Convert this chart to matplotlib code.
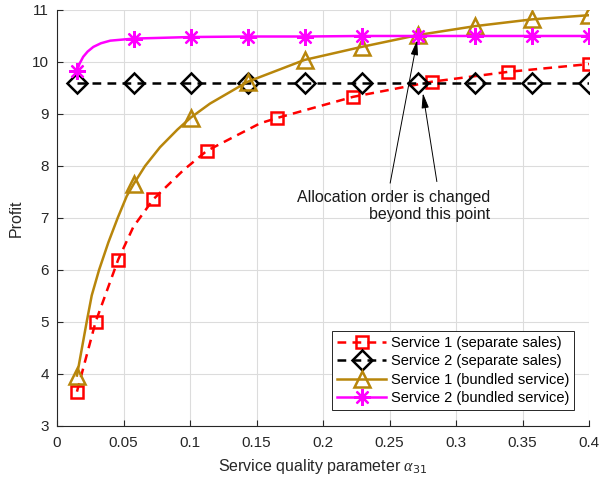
import matplotlib
matplotlib.use('Agg')
import matplotlib.pyplot as plt

plt.rcParams['font.family'] = ['Liberation Sans', 'DejaVu Sans']
plt.rcParams['mathtext.fontset'] = 'custom'
plt.rcParams['mathtext.it'] = 'Liberation Serif:italic'

# 数据
x_marks = [0.015, 0.0578, 0.1005, 0.1433, 0.1861, 0.2289, 0.2717, 0.3144, 0.3572, 0.4]

# Service 1 (separate sales)
s1_sep_x = [0.015, 0.029, 0.046, 0.0574, 0.0724, 0.095, 0.1125, 0.1526, 0.165,
            0.2226, 0.2816, 0.339, 0.4]
s1_sep_y = [3.66, 5.0, 6.2, 6.83, 7.36, 7.92, 8.29, 8.82, 8.92,
            9.33, 9.62, 9.81, 9.96]
s1_sep_mk = [0, 1, 2, 4, 6, 8, 9, 10, 11, 12]

# Service 2 (separate sales)
s2_sep_y = [9.59, 9.59, 9.59, 9.59, 9.59, 9.59, 9.59, 9.59, 9.59, 9.59]

# Service 1 (bundled service)
s1_bun_x = [0.015, 0.0223, 0.0261, 0.0316, 0.0386, 0.0456, 0.0524, 0.0578, 0.0662,
            0.0774, 0.0905, 0.1005, 0.115, 0.1433, 0.1861, 0.2289, 0.2717, 0.3144,
            0.3572, 0.4]
s1_bun_y = [3.97, 5.0, 5.51, 6.0, 6.53, 7.0, 7.42, 7.66, 8.0,
            8.36, 8.7, 8.93, 9.2, 9.62, 10.04, 10.29, 10.52, 10.69,
            10.82, 10.90]
s1_bun_mk = [0, 7, 11, 13, 14, 15, 16, 17, 18, 19]

# Service 2 (bundled service)
s2_bun_x = [0.015, 0.017, 0.0197, 0.023, 0.0273, 0.033, 0.04, 0.0578, 0.1005,
            0.1433, 0.1861, 0.2289, 0.2717, 0.3144, 0.3572, 0.4]
s2_bun_y = [9.83, 9.97, 10.1, 10.2, 10.29, 10.36, 10.41, 10.45, 10.48,
            10.49, 10.49, 10.5, 10.5, 10.5, 10.5, 10.5]
s2_bun_mk = [0, 7, 8, 9, 10, 11, 12, 13, 14, 15]

gold = '#b8860b'
star = (8, 2, 0)

fig = plt.figure(figsize=(6, 4.87), dpi=100)
ax = fig.add_axes([0.095, 0.1253, 0.887, 0.8542])

ax.plot(s1_sep_x, s1_sep_y, color='r', linestyle=(0, (3.5, 2.5)), lw=1.8,
        marker='s', markevery=s1_sep_mk, ms=9, mfc='none', mew=1.8,
        label='Service 1 (separate sales)')
ax.plot(x_marks, s2_sep_y, color='k', linestyle=(0, (3.5, 2.5)), lw=1.8,
        marker='D', ms=10, mfc='none', mew=1.8,
        label='Service 2 (separate sales)')
ax.plot(s1_bun_x, s1_bun_y, color=gold, lw=1.8,
        marker='^', markevery=s1_bun_mk, ms=12, mfc='none', mew=1.8,
        label='Service 1 (bundled service)')
ax.plot(s2_bun_x, s2_bun_y, color='#ff00ff', lw=1.8,
        marker=star, markevery=s2_bun_mk, ms=12, mew=1.6,
        label='Service 2 (bundled service)')

# 注释
ax.text(0.3256, 7.23, 'Allocation order is changed\nbeyond this point',
        ha='right', va='center', multialignment='right', fontsize=11.5,
        linespacing=1.2, color='#1a1a1a')
ax.annotate('', xy=(0.2707, 10.42), xytext=(0.2504, 7.67),
            arrowprops=dict(arrowstyle='-|>,head_length=0.9,head_width=0.22',
                            color='k', lw=0.7, shrinkA=0, shrinkB=0))
ax.annotate('', xy=(0.275, 9.40), xytext=(0.2855, 7.70),
            arrowprops=dict(arrowstyle='-|>,head_length=0.9,head_width=0.22',
                            color='k', lw=0.7, shrinkA=0, shrinkB=0))

ax.set_xlim(0, 0.4)
ax.set_ylim(3, 11)
ax.set_xticks([0, 0.05, 0.1, 0.15, 0.2, 0.25, 0.3, 0.35, 0.4])
ax.set_xticklabels(['0', '0.05', '0.1', '0.15', '0.2', '0.25', '0.3', '0.35', '0.4'])
ax.set_yticks(range(3, 12))
ax.grid(True, color='#dcdcdc', lw=0.8)
ax.set_axisbelow(True)
ax.tick_params(direction='in', length=4, colors='#262626', labelsize=11)
ax.tick_params(axis='x', pad=7)
ax.tick_params(axis='y', pad=6)
ax.spines['top'].set_visible(False)
ax.spines['right'].set_visible(False)
ax.spines['left'].set_color('#262626')
ax.spines['bottom'].set_color('#262626')

ax.set_xlabel(r'Service quality parameter $\alpha_{31}$', fontsize=11.5, color='#262626', labelpad=5)
ax.set_ylabel('Profit', fontsize=11.5, color='#262626', labelpad=6)

leg = ax.legend(loc='lower right', bbox_to_anchor=(0.972, 0.038), fontsize=10.5,
                fancybox=False, framealpha=1, edgecolor='#262626',
                handlelength=3.4, labelspacing=0.3, borderpad=0.35,
                handletextpad=0.3, borderaxespad=0)
leg.get_frame().set_linewidth(0.7)

fig.savefig('out.png', dpi=100)
